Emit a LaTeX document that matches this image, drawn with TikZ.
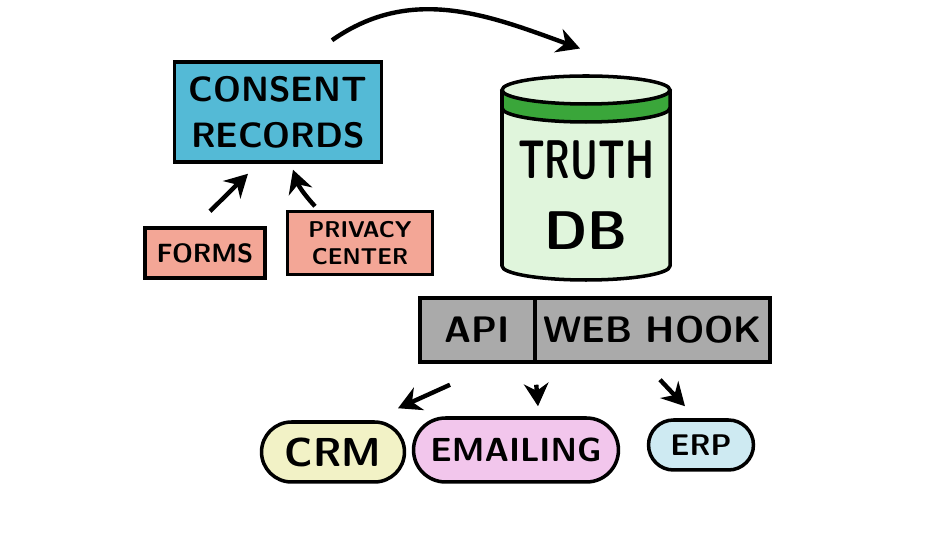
\documentclass[tikz,border=0pt]{standalone}
\usepackage{xcolor}
\usepackage{graphicx}
\usepackage{tikz}
\usetikzlibrary{shapes}
\usetikzlibrary{shapes.misc}
\usetikzlibrary{arrows.meta}

\definecolor{recblue}{RGB}{84,186,214}
\definecolor{salmon}{RGB}{243,166,150}
\definecolor{dbgreen}{RGB}{224,245,220}
\definecolor{bandgreen}{RGB}{58,166,58}
\definecolor{hookgray}{RGB}{170,170,170}
\definecolor{crmyellow}{RGB}{242,242,198}
\definecolor{mailpink}{RGB}{242,198,236}
\definecolor{erpblue}{RGB}{206,234,242}

\begin{document}
\begin{tikzpicture}[x=0.02cm,y=0.02cm,
  box/.style={draw,line width=2pt,rectangle,inner sep=2pt,align=center,font=\sffamily\bfseries},
  pill/.style={draw,line width=2pt,rounded rectangle,inner sep=2pt,font=\sffamily\bfseries},
  arr/.style={line width=2.5pt,-{Stealth[length=13pt,width=14pt]}}]
\useasboundingbox (0,0) rectangle (950,544);
% left side: where consents come from
\node[box,fill=recblue,minimum width=4.14cm,minimum height=2cm,
  font=\sffamily\bfseries\fontsize{20}{26}\selectfont] (rec) at (278,432) {CONSENT\\RECORDS};
\node[box,fill=salmon,minimum width=2.4cm,minimum height=1cm,
  font=\sffamily\bfseries\fontsize{15}{18}\selectfont] (forms) at (205,291) {FORMS};
\node[box,fill=salmon,minimum width=2.9cm,minimum height=1.26cm,
  font=\sffamily\bfseries\fontsize{13}{15}\selectfont] (privacy) at (360,301) {PRIVACY\\CENTER};
% the database cylinder
\fill[dbgreen] (502,454) -- (502,278) arc[start angle=180,end angle=360,x radius=84,y radius=14]
   -- (670,454) -- cycle;
\fill[bandgreen] (502,454) arc[start angle=180,end angle=360,x radius=84,y radius=14]
   -- (670,436) arc[start angle=0,end angle=-180,x radius=84,y radius=14] -- cycle;
\draw[line width=2pt,fill=dbgreen] (586,454) ellipse[x radius=84,y radius=14];
\draw[line width=2pt,join=round] (502,454) -- (502,278)
   arc[start angle=180,end angle=360,x radius=84,y radius=14] -- (670,454);
\draw[line width=2pt] (502,436) arc[start angle=180,end angle=360,x radius=84,y radius=14];
\coordinate (dbtop) at (586,468);
\node[font=\sffamily\bfseries\fontsize{31}{40}\selectfont,align=center] (db) at (586,349)
   {\scalebox{0.67}[1]{TRUTH}\\DB};
% access bar
\node[box,fill=hookgray,minimum width=2.3cm,minimum height=1.28cm,
  font=\sffamily\bfseries\fontsize{21}{24}\selectfont] (api) at (477.5,214) {API};
\node[box,fill=hookgray,minimum width=4.7cm,minimum height=1.28cm,
  font=\sffamily\bfseries\fontsize{21}{24}\selectfont] (hook) at (652.5,214) {WEB HOOK};
% consumers
\node[pill,fill=crmyellow,minimum width=3cm,minimum height=1.2cm,
  font=\sffamily\bfseries\fontsize{23}{26}\selectfont] (crm) at (333,92) {CRM};
\node[pill,fill=mailpink,minimum width=4.24cm,minimum height=1.28cm,
  font=\sffamily\bfseries\fontsize{19}{22}\selectfont] (mail) at (516,94) {EMAILING};
\node[pill,fill=erpblue,minimum width=2.24cm,minimum height=1cm,
  font=\sffamily\bfseries\fontsize{17}{20}\selectfont] (erp) at (701,99) {ERP};
% arrows
\draw[arr] ([xshift=0.1cm,yshift=0.3cm]forms.north) -- ([xshift=-0.6cm,yshift=-0.2cm]rec.south);
\draw[arr] ([xshift=-0.9cm,yshift=0.07cm]privacy.north) to[bend left=12]
   ([xshift=0.3cm,yshift=-0.12cm]rec.south);
\draw[arr] ([xshift=1.08cm,yshift=0.4cm]rec.north) to[out=35,in=160]
   ([xshift=-0.12cm,yshift=0.55cm]dbtop);
\draw[arr] ([xshift=-0.55cm,yshift=-0.42cm]api.south) -- ([xshift=1.3cm,yshift=0.24cm]crm.north);
\draw[arr] ([xshift=0.06cm,yshift=-0.42cm]hook.south west) -- ([xshift=0.44cm,yshift=0.2cm]mail.north);
\draw[arr] ([xshift=0.15cm,yshift=-0.32cm]hook.south) -- ([xshift=-0.32cm,yshift=0.24cm]erp.north);
\end{tikzpicture}
\end{document}
